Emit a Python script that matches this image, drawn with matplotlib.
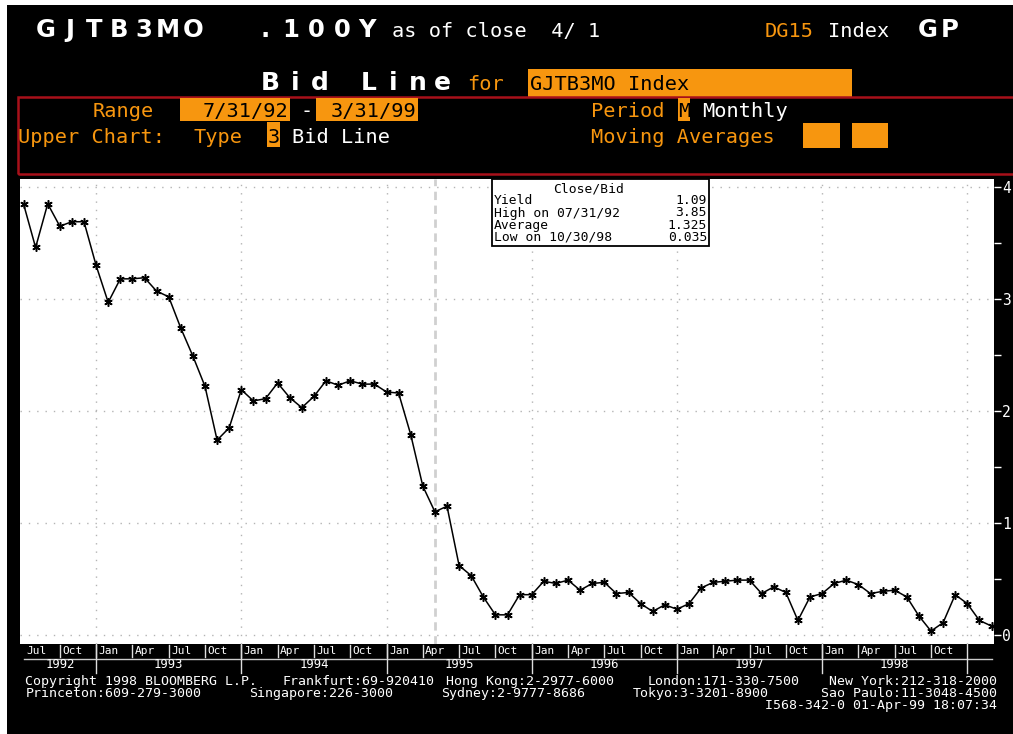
import matplotlib
matplotlib.use('Agg')
import matplotlib.pyplot as plt
import matplotlib.transforms as mtransforms
from matplotlib.patches import Rectangle
from matplotlib.lines import Line2D

W, H = 1013, 734

# month-end bid yield, Jul 1992 .. Mar 1999
yields = [3.85, 3.46, 3.85, 3.65, 3.69, 3.69, 3.30, 2.97, 3.18, 3.18, 3.19, 3.07,
          3.02, 2.74, 2.49, 2.22, 1.74, 1.85, 2.19, 2.09, 2.11, 2.25, 2.12, 2.03,
          2.13, 2.27, 2.23, 2.27, 2.24, 2.24, 2.17, 2.16, 1.79, 1.33, 1.10, 1.15,
          0.62, 0.53, 0.34, 0.18, 0.18, 0.36, 0.36, 0.48, 0.46, 0.49, 0.40, 0.46,
          0.47, 0.37, 0.38, 0.28, 0.21, 0.27, 0.23, 0.28, 0.42, 0.47, 0.48, 0.49,
          0.49, 0.37, 0.43, 0.38, 0.13, 0.34, 0.37, 0.46, 0.49, 0.45, 0.37, 0.39,
          0.40, 0.34, 0.17, 0.035, 0.11, 0.36, 0.28, 0.13, 0.08]
quarter_names = ['Jul', 'Oct', 'Jan', 'Apr']
years = ['1992', '1993', '1994', '1995', '1996', '1997', '1998']
year_starts = [0, 6, 18, 30, 42, 54, 66, 78]
y_ticks = [0, 1, 2, 3, 4]

stats_labels = ['Yield', 'High on 07/31/92', 'Average', 'Low on 10/30/98']
stats_values = ['1.09', '3.85', '1.325', '0.035']

ORANGE = '#f7960f'
RED = '#a8101a'
MONO = 'DejaVu Sans Mono'


def fx(px):
    return px / W


def fy(py):
    return 1 - py / H


fig = plt.figure(figsize=(W / 100, H / 100), dpi=100, facecolor='white')


def box(x0, y0, x1, y1, fc=ORANGE, ec='none', lw=0, z=2):
    fig.patches.append(Rectangle((fx(x0), fy(y1)), (x1 - x0) / W, (y1 - y0) / H,
                                 transform=fig.transFigure, facecolor=fc,
                                 edgecolor=ec, linewidth=lw, zorder=z))


def txt(x, y, s, color='white', size=14.6, ha='left', z=3):
    fig.text(fx(x), fy(y), s, color=color, fontsize=size, ha=ha, va='baseline',
             family=MONO, zorder=z)


def spaced(x0, x1, y, s, size=17.5):
    # wide bold terminal letters
    pitch = (x1 - x0) / len(s)
    for k, ch in enumerate(s):
        fig.text(fx(x0 + pitch * (k + 0.5)), fy(y), ch, color='white', fontsize=size,
                 fontweight='bold', family='DejaVu Sans', ha='center', va='baseline')


box(7, 5, W, H, fc='black', z=-1)

# header
spaced(33, 205, 37, 'GJTB3MO')
fig.text(fx(265), fy(37), '.', color='white', fontsize=17.5, fontweight='bold',
         ha='center', va='baseline')
spaced(278, 380, 37, '100Y')
txt(392, 37, 'as of close  4/ 1')
txt(765, 37, 'DG15', ORANGE)
txt(828, 37, 'Index')
spaced(917, 960, 37, 'GP')

spaced(258, 455, 90, 'Bid Line', 18)
txt(467, 90, 'for', ORANGE)
box(528, 69.5, 852, 96.5)
txt(530, 90, 'GJTB3MO Index', 'black')

box(18, 97, W + 5, 174, fc='none', ec=RED, lw=1.8)

txt(93, 117, 'Range', ORANGE)
box(180, 97.5, 290, 120.5)
txt(288, 117, '7/31/92', 'black', ha='right')
txt(300, 117, '-')
box(316, 97.5, 418, 120.5)
txt(416, 117, '3/31/99', 'black', ha='right')
txt(591, 117, 'Period', ORANGE)
box(678, 97.5, 690, 120.5)
txt(684, 117, 'M', 'black', ha='center')
txt(702, 117, 'Monthly')

txt(18, 143, 'Upper Chart:', ORANGE)
txt(193, 143, 'Type', ORANGE)
box(267, 122, 280, 147)
txt(273.5, 143, '3', 'black', ha='center')
txt(292, 143, 'Bid Line')
txt(591, 143, 'Moving Averages', ORANGE)
box(803, 122.5, 840, 147.5)
box(852, 122.5, 888, 147.5)

# chart
ax = fig.add_axes([fx(20), fy(644), (994 - 20) / W, (644 - 179) / H], facecolor='white')
X0, DX = 23.5, 12.1
ax.set_xlim((20 - X0) / DX, (994 - X0) / DX)
ax.set_ylim((635 - 644) / 112, (635 - 179) / 112)

for v in y_ticks:
    ax.axhline(v, color='#b4b4b4', lw=1, ls=(0, (1, 5)), zorder=0)
for i in year_starts[1:]:
    ax.axvline(i, color='#b4b4b4', lw=1, ls=(0, (1, 5)), zorder=0)
ax.axvline(34, color='#d0d0d0', lw=2, ls=(0, (3, 2)), zorder=0)

idx = list(range(len(yields)))
ax.plot(idx, yields, color='black', lw=1.1, marker=(6, 2, 0), ms=6, mew=1.1,
        mec='black', zorder=3)

for s in ax.spines.values():
    s.set_visible(False)
ax.set_xticks([])
ax.yaxis.tick_right()
ax.set_yticks(y_ticks)
ax.set_yticks([0.5, 1.5, 2.5, 3.5], minor=True)
ax.tick_params(axis='y', which='both', colors='white', length=5, width=1, pad=1,
               labelsize=10.5)
for lab in ax.get_yticklabels():
    lab.set_family(MONO)

# date scale under the chart
trans = mtransforms.blended_transform_factory(ax.transData, fig.transFigure)
for k, i in enumerate(range(0, 78, 3)):
    ax.text(i + 0.2, fy(654), quarter_names[k % 4], transform=trans, color='white',
            fontsize=8, family=MONO, va='baseline', ha='left', clip_on=False)
    if i > 0:
        ax.add_line(Line2D([i, i], [fy(645), fy(657)], transform=trans,
                           color='#dddddd', lw=1, clip_on=False))
ax.add_line(Line2D([0, 80], [fy(659), fy(659)], transform=trans, color='#cccccc',
                   lw=1, clip_on=False))
for i in year_starts[1:]:
    ax.add_line(Line2D([i, i], [fy(644), fy(673)], transform=trans, color='#dddddd',
                       lw=1, clip_on=False))
for k, yr in enumerate(years):
    c = (year_starts[k] + year_starts[k + 1]) / 2
    ax.text(c, fy(668), yr, transform=trans, color='white', fontsize=8.8, family=MONO,
            va='baseline', ha='center', clip_on=False)

# stats box
box(492, 179, 709, 245.5, fc='white', ec='black', lw=1.3, z=5)
txt(589, 192, 'Close/Bid', 'black', size=9.4, ha='center', z=6)
for k, (lab, val) in enumerate(zip(stats_labels, stats_values)):
    base = [203.5, 216.5, 229, 241][k]
    txt(494, base, lab, 'black', size=9.4, z=6)
    txt(707, base, val, 'black', size=9.4, ha='right', z=6)

# footer
txt(25, 685, 'Copyright 1998 BLOOMBERG L.P.', size=9.5)
txt(283, 685, 'Frankfurt:69-920410', size=9.5)
txt(446, 685, 'Hong Kong:2-2977-6000', size=9.5)
txt(648, 685, 'London:171-330-7500', size=9.5)
txt(997, 685, 'New York:212-318-2000', size=9.5, ha='right')
txt(26, 697, 'Princeton:609-279-3000', size=9.5)
txt(249, 697, 'Singapore:226-3000', size=9.5)
txt(441, 697, 'Sydney:2-9777-8686', size=9.5)
txt(633, 697, 'Tokyo:3-3201-8900', size=9.5)
txt(997, 697, 'Sao Paulo:11-3048-4500', size=9.5, ha='right')
txt(997, 709, 'I568-342-0 01-Apr-99 18:07:34', size=9.5, ha='right')

fig.savefig('out.png', dpi=100, facecolor=fig.get_facecolor())
